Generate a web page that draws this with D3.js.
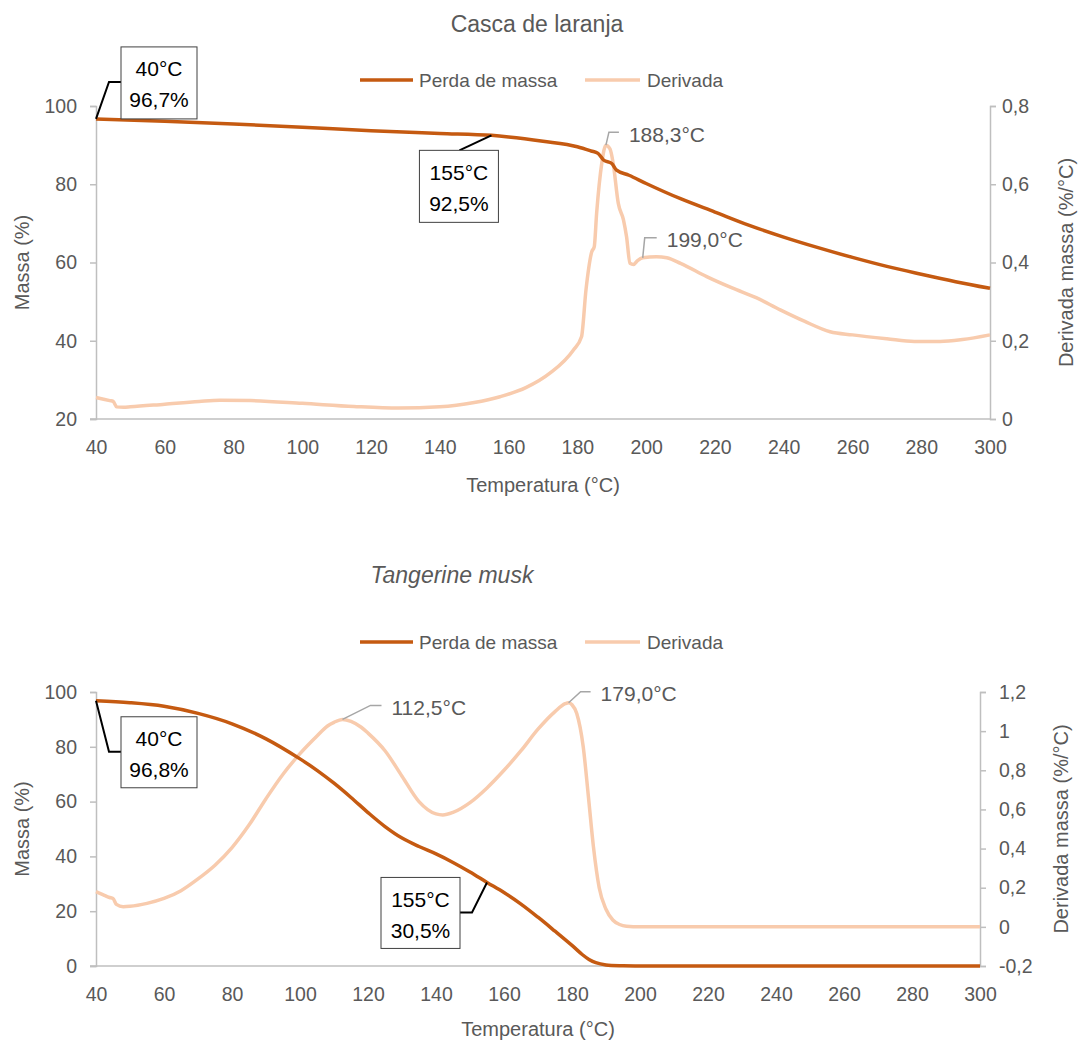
<!DOCTYPE html>
<html><head><meta charset="utf-8">
<script src="https://cdn.jsdelivr.net/npm/d3@7"></script>
<style>
body{margin:0;background:#fff}
svg{display:block}
text{font-family:"Liberation Sans","Arial",sans-serif;}
</style>
</head><body>
<svg id="c" width="1079" height="1044"></svg>
<script>
// ---------------- DATA ----------------
const xTicks = [40,60,80,100,120,140,160,180,200,220,240,260,280,300];

// Panel 1: Casca de laranja
const topTitle = "Casca de laranja";
const topMassTemp = [40,60,80,100,120,140,155,160,170,180,184,186,187.6,190,191.4,195,200,210,220,230,240,250,260,270,280,290,300];
const topMass     = [96.7,96.1,95.4,94.6,93.7,93.0,92.5,92.1,91.0,89.6,88.5,87.9,86.2,85.3,83.6,82.3,80.2,76.3,72.9,69.5,66.5,63.8,61.3,59.0,57.0,55.1,53.4];
const topDerivTemp = [40,44,45,46,48,50,60,70,76,85,100,115,128,140,150,157.5,165,172,178.8,181.2,182.5,184.2,184.9,185.6,187.1,188.3,189.5,190.4,191.9,193.4,194.3,195.3,196.3,197.5,199,203,206,210,217.6,225,232,239,246,253.5,260,270,278,285.5,292,300];
const topDeriv     = [0.055,0.047,0.045,0.031,0.03,0.031,0.038,0.045,0.048,0.047,0.04,0.032,0.028,0.031,0.042,0.057,0.08,0.117,0.176,0.21,0.33,0.428,0.44,0.526,0.654,0.70,0.69,0.654,0.551,0.509,0.466,0.398,0.395,0.405,0.412,0.415,0.412,0.398,0.364,0.335,0.31,0.279,0.25,0.223,0.215,0.205,0.198,0.198,0.203,0.215];
const topLeftTicks  = [20,40,60,80,100];
const topRightTicks = [0,0.2,0.4,0.6,0.8];
const topBoxes  = [{t:40, v:96.7, lines:["40°C","96,7%"]},{t:155, v:92.5, lines:["155°C","92,5%"]}];
const topPeaks  = [{t:188.3, v:0.70, label:"188,3°C"},{t:199.0, v:0.412, label:"199,0°C"}];

// Panel 2: Tangerine musk
const botTitle = "Tangerine musk";
const botMassTemp = [40,50,60,70,80,90,100,105,110,115,120,125,130,135,140,145,150,155,160,165,170,175,180,183,185,187,190,195,200,250,300];
const botMass     = [96.8,96.1,94.8,92.2,88.4,82.9,75.6,71.4,66.7,61.5,56.0,50.9,46.7,43.6,40.9,37.8,34.3,30.5,26.8,22.6,17.8,12.7,7.5,4.2,2.4,1.2,0.4,0.1,0.03,0,0];
const botDerivTemp = [40,42,44,45,46,48,50,55,60,65,70,75,80,85,90,95,100,105,108,110,112.5,115,118,120,125,130,135,140,142,145,150,155,160,165,170,175,178,179,180,181.4,183.3,184.8,186.3,188,190,192,194,196,200,250,300];
const botDeriv     = [0.18,0.165,0.15,0.145,0.115,0.103,0.105,0.12,0.145,0.185,0.245,0.315,0.405,0.52,0.655,0.78,0.885,0.975,1.025,1.045,1.06,1.05,1.02,0.99,0.9,0.77,0.64,0.577,0.572,0.585,0.635,0.71,0.8,0.9,1.01,1.1,1.14,1.145,1.135,1.09,0.92,0.67,0.41,0.2,0.09,0.035,0.012,0.003,0,0,0];
const botLeftTicks  = [0,20,40,60,80,100];
const botRightTicks = [-0.2,0,0.2,0.4,0.6,0.8,1,1.2];
const botBoxes  = [{t:40, v:96.8, lines:["40°C","96,8%"]},{t:155, v:30.5, lines:["155°C","30,5%"]}];
const botPeaks  = [{t:112.5, v:1.06, label:"112,5°C"},{t:179.0, v:1.145, label:"179,0°C"}];

const seriesNames = ["Perda de massa","Derivada"];
const xTitle = "Temperatura (°C)";
const yLeftTitle = "Massa (%)";
const yRightTitle = "Derivada massa (%/°C)";

// ---------------- DRAW ----------------
const svg = d3.select("#c");
const DARK = "#C55A11", LIGHT = "#F8CBAD", AX = "#BFBFBF", TXT = "#595959";
const fmt = v => String(v).replace(".", ",");

function panel(o) {
  const g = svg.append("g");
  const x = d3.scaleLinear().domain([40,300]).range([o.x0, o.x1]);
  const yL = d3.scaleLinear().domain(o.leftDom).range([o.yb, o.yt]);
  const yR = d3.scaleLinear().domain(o.rightDom).range([o.yb, o.yt]);

  // title
  g.append("text").attr("x", o.titleX).attr("y", o.titleY).attr("text-anchor","middle")
    .attr("dominant-baseline","central").attr("font-size",23).attr("fill",TXT)
    .attr("font-style", o.italic ? "italic" : null).text(o.title);

  // legend
  const lg = g.append("g").attr("transform", `translate(0,${o.legY})`);
  lg.append("line").attr("x1",360).attr("x2",413).attr("stroke",DARK).attr("stroke-width",3.5);
  lg.append("text").attr("x",419).attr("dominant-baseline","central").attr("font-size",19).attr("fill",TXT).text(seriesNames[0]);
  lg.append("line").attr("x1",585).attr("x2",640).attr("stroke",LIGHT).attr("stroke-width",3.5);
  lg.append("text").attr("x",647).attr("dominant-baseline","central").attr("font-size",19).attr("fill",TXT).text(seriesNames[1]);

  // axes
  const axL = d3.axisLeft(yL).tickValues(o.leftTicks).tickSize(6).tickPadding(13).tickFormat(fmt);
  const axR = d3.axisRight(yR).tickValues(o.rightTicks).tickSize(6).tickPadding(o.rPad).tickFormat(fmt);
  const axB = d3.axisBottom(x).tickValues(xTicks).tickSize(0).tickPadding(21).tickFormat(d3.format("d"));
  const style = s => {
    s.select(".domain").attr("stroke",AX).attr("stroke-width",1.5);
    s.selectAll(".tick line").attr("stroke",AX).attr("stroke-width",1.5);
    s.selectAll(".tick text").attr("fill",TXT).attr("font-size",19.5).attr("font-family",null);
  };
  g.append("g").attr("transform",`translate(0,${o.yb})`).call(axB).call(style)
    .call(s => s.select(".domain").attr("d", `M${o.x0-6},0H${o.x1}`));
  g.append("g").attr("transform",`translate(${o.x0},0)`).call(axL).call(style);
  g.append("g").attr("transform",`translate(${o.x1},0)`).call(axR).call(style);

  // axis titles
  g.append("text").attr("x",(o.x0+o.x1)/2).attr("y",o.xTitleY).attr("text-anchor","middle")
    .attr("dominant-baseline","central").attr("font-size",20).attr("fill",TXT).text(xTitle);
  g.append("text").attr("transform",`translate(22,${(o.yt+o.yb)/2}) rotate(-90)`).attr("text-anchor","middle")
    .attr("dominant-baseline","central").attr("font-size",20).attr("fill",TXT).text(yLeftTitle);
  g.append("text").attr("transform",`translate(${o.rTitleX},${(o.yt+o.yb)/2}) rotate(-90)`).attr("text-anchor","middle")
    .attr("dominant-baseline","central").attr("font-size",20).attr("fill",TXT).text(yRightTitle);

  // lines
  const dPts = o.derivT.map((t,i)=>[t,o.deriv[i]]);
  const mPts = o.massT.map((t,i)=>[t,o.mass[i]]);
  g.append("path").datum(dPts).attr("fill","none").attr("stroke",LIGHT).attr("stroke-width",3.5)
    .attr("stroke-linejoin","round")
    .attr("d", d3.line().x(d=>x(d[0])).y(d=>yR(d[1])).curve(o.derivCurve));
  g.append("path").datum(mPts).attr("fill","none").attr("stroke",DARK).attr("stroke-width",3.5)
    .attr("stroke-linejoin","round")
    .attr("d", d3.line().x(d=>x(d[0])).y(d=>yL(d[1])).curve(o.massCurve));

  // peak labels
  o.peaks.forEach((p,i) => {
    const ax = x(p.t), ay = yR(p.v), off = o.peakOff[i];
    g.append("path").attr("fill","none").attr("stroke","#A6A6A6").attr("stroke-width",1.5)
      .attr("d",`M${ax},${ay}L${ax+off[0]},${ay+off[1]}H${ax+off[0]+off[2]}`);
    g.append("text").attr("x",ax+off[0]+off[2]+10).attr("y",ay+off[1]+2).attr("dominant-baseline","central")
      .attr("font-size",21).attr("fill",TXT).text(p.label);
  });

  // callout boxes
  o.boxes.forEach((b,i) => {
    const ax = x(b.t), ay = yL(b.v), L = o.boxLay[i];
    g.append("path").attr("fill","none").attr("stroke","#000").attr("stroke-width",2)
      .attr("d", `M${ax},${ay}` + L.path.map(p=>`L${ax+p[0]},${ay+p[1]}`).join(""));
    const bx = ax + L.box[0], by = ay + L.box[1], bw = L.box[2], bh = L.box[3];
    g.append("rect").attr("x",bx).attr("y",by).attr("width",bw).attr("height",bh)
      .attr("fill","#fff").attr("stroke","#404040").attr("stroke-width",1);
    b.lines.forEach((s,k)=>{
      g.append("text").attr("x",bx+bw/2).attr("y",by+22+k*31).attr("text-anchor","middle")
        .attr("dominant-baseline","central").attr("font-size",21).attr("fill","#000").text(s);
    });
  });
}

panel({
  title: topTitle, italic:false, titleX:537, titleY:24, legY:80,
  x0:96, x1:990, yt:106, yb:419, leftDom:[20,100], rightDom:[0,0.8],
  leftTicks: topLeftTicks, rightTicks: topRightTicks, rPad:6,
  xTitleY:485, rTitleX:1066,
  massT: topMassTemp, mass: topMass, derivT: topDerivTemp, deriv: topDeriv,
  massCurve: d3.curveMonotoneX, derivCurve: d3.curveMonotoneX,
  peaks: topPeaks, peakOff: [[3,-13,10],[2,-20,12]],
  boxes: topBoxes,
  boxLay: [ {path:[[13,-37],[25,-37]], box:[25,-72,76,72]},
            {path:[[-32,15]], box:[-72,15,79,72]} ]
});

panel({
  title: botTitle, italic:true, titleX:452, titleY:575, legY:642,
  x0:96, x1:980, yt:692, yb:966, leftDom:[0,100], rightDom:[-0.2,1.2],
  leftTicks: botLeftTicks, rightTicks: botRightTicks, rPad:13,
  xTitleY:1029, rTitleX:1061,
  massT: botMassTemp, mass: botMass, derivT: botDerivTemp, deriv: botDeriv,
  massCurve: d3.curveCatmullRom.alpha(0.5), derivCurve: d3.curveMonotoneX,
  peaks: botPeaks, peakOff: [[28,-14,11],[12,-11,10]],
  boxes: botBoxes,
  boxLay: [ {path:[[13,51],[25,51]], box:[25,16,76,71]},
            {path:[[-15,30],[-27,30]], box:[-106,-5,79,71]} ]
});
</script>
</body></html>
